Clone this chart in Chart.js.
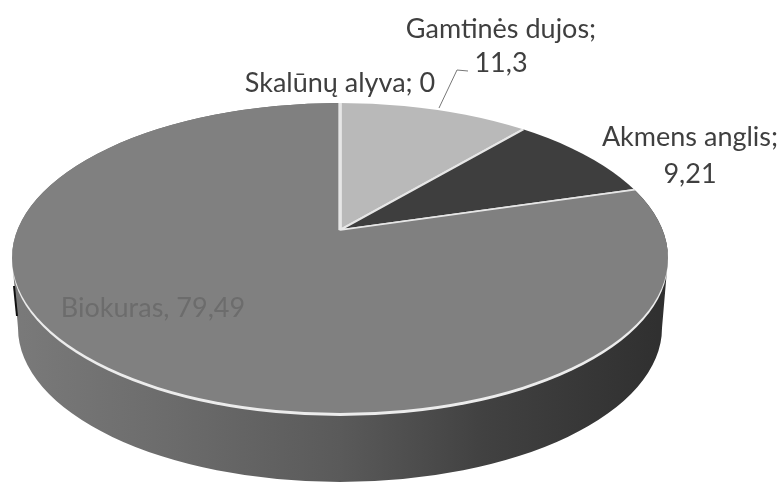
<!DOCTYPE html>
<html>
<head>
<meta charset="utf-8">
<script src="https://cdn.jsdelivr.net/npm/chart.js@4/dist/chart.umd.min.js"></script>
<style>
  html,body{margin:0;padding:0;background:#fff;overflow:hidden}
  canvas{display:block}
</style>
</head>
<body>
<canvas id="pie" width="784" height="483"></canvas>
<script>
const categories = ["Skalūnų alyva", "Gamtinės dujos", "Akmens anglis", "Biokuras"];
const values = [0, 11.3, 9.21, 79.49];
const sliceColors = ["#9a9a9a", "#b9b9b9", "#3e3e3e", "#808080"];

// label rows as they wrap in the original
const labelLines = [
  {text: "Skalūnų alyva; 0", x: 340, y: 92, color: "#3f3f3f"},
  {text: "Gamtinės dujos;", x: 501, y: 38, color: "#3f3f3f"},
  {text: "11,3", x: 501, y: 72, color: "#3f3f3f"},
  {text: "Akmens anglis;", x: 690, y: 146, color: "#3f3f3f"},
  {text: "9,21", x: 690, y: 183, color: "#3f3f3f"},
  {text: "Biokuras, 79,49", x: 153, y: 317, color: "#6c6c6c"}
];

// the tilted disc: wedge point, top face outline, bottom outline
const apex = {x: 340, y: 230};
const top3d = {x: 340, y: 258, rx: 328, ry: 155};
const base3d = {x: 340, y: 328, rx: 322, ry: 154};
const tilt = 0.472;
const reach = 800;

function ellipsePath(ctx, e, dy) {
  ctx.beginPath();
  ctx.ellipse(e.x, e.y + (dy || 0), e.rx, e.ry, 0, 0, Math.PI * 2);
}

function drawWedge(ctx, arc, opts) {
  const sx = reach / arc.outerRadius;
  ctx.save();
  ctx.translate(apex.x, apex.y);
  ctx.scale(sx, sx * tilt);
  ctx.translate(-arc.x, -arc.y);
  if (opts) {
    const copy = Object.create(arc);
    copy.options = Object.assign({}, arc.options, opts);
    copy.draw(ctx);
  } else {
    arc.draw(ctx);
  }
  ctx.restore();
}

const tiltedPie = {
  id: "tiltedPie",
  beforeDatasetsDraw(chart) {
    const ctx = chart.ctx;
    const arcs = chart.getDatasetMeta(0).data;
    const big = arcs[3];
    const sx = reach / big.outerRadius;
    const toChartX = px => big.x + (px - apex.x) / sx;

    // side wall
    const wall = ctx.createLinearGradient(toChartX(12), 0, toChartX(668), 0);
    wall.addColorStop(0, "#7a7a7a");
    wall.addColorStop(0.25, "#6b6b6b");
    wall.addColorStop(0.5, "#5a5a5a");
    wall.addColorStop(0.72, "#414141");
    wall.addColorStop(1, "#2f2f2f");
    ctx.save();
    ctx.beginPath();
    ctx.ellipse(top3d.x, top3d.y, top3d.rx, top3d.ry, 0, Math.PI, Math.PI * 2);
    ctx.ellipse(base3d.x, base3d.y, base3d.rx, base3d.ry, 0, 0, Math.PI);
    ctx.closePath();
    ctx.clip();
    drawWedge(ctx, big, {backgroundColor: wall, borderWidth: 0});
    ctx.restore();

    // white rim under the face
    ctx.save();
    ellipsePath(ctx, top3d, 3);
    ctx.clip();
    drawWedge(ctx, big, {backgroundColor: "#ececec", borderWidth: 0});
    ctx.restore();

    // top face
    ctx.save();
    ellipsePath(ctx, top3d);
    ctx.clip();
    arcs.forEach((arc, i) => {
      if (values[i] > 0) drawWedge(ctx, arc);
    });
    ctx.restore();
    return false;
  },
  afterDraw(chart) {
    const ctx = chart.ctx;
    ctx.save();
    // leader line for the natural gas label
    ctx.strokeStyle = "#777";
    ctx.lineWidth = 1;
    ctx.beginPath();
    ctx.moveTo(439, 108);
    ctx.lineTo(457, 70);
    ctx.lineTo(468, 71);
    ctx.stroke();

    // dark scan mark on the left edge
    ctx.strokeStyle = "#111";
    ctx.lineWidth = 2;
    ctx.beginPath();
    ctx.moveTo(14, 286);
    ctx.lineTo(17, 316);
    ctx.stroke();

    ctx.font = "27px Lato";
    ctx.textAlign = "center";
    ctx.textBaseline = "alphabetic";
    labelLines.forEach(l => {
      ctx.fillStyle = l.color;
      ctx.fillText(l.text, l.x, l.y);
    });
    ctx.restore();
  }
};

new Chart(document.getElementById("pie"), {
  type: "pie",
  data: {
    labels: categories,
    datasets: [{
      data: values,
      backgroundColor: sliceColors,
      borderColor: "#e6e6e6",
      borderWidth: 1
    }]
  },
  options: {
    responsive: false,
    animation: false,
    events: [],
    plugins: {legend: {display: false}, tooltip: {enabled: false}}
  },
  plugins: [tiltedPie]
});
</script>
</body>
</html>
